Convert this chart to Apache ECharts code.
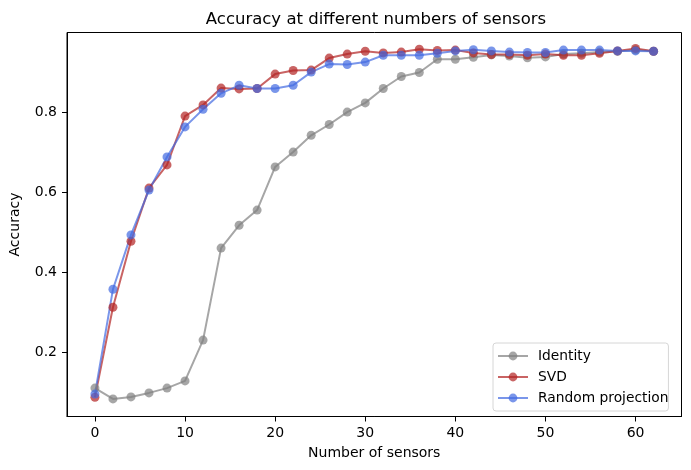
<!DOCTYPE html>
<html>
<head>
<meta charset="utf-8">
<script src="https://cdn.jsdelivr.net/npm/echarts@6/dist/echarts.min.js"></script>
<style>html,body{margin:0;padding:0;background:#fff}#c{width:691px;height:470px}</style>
</head>
<body>
<div id="c"></div>
<script>
var sensors = [0,2,4,6,8,10,12,14,16,18,20,22,24,26,28,30,32,34,36,38,40,42,44,46,48,50,52,54,56,58,60,62];
var identity = [0.110,0.083,0.088,0.098,0.110,0.128,0.230,0.460,0.517,0.555,0.663,0.700,0.742,0.769,0.800,0.823,0.859,0.889,0.899,0.932,0.932,0.937,0.943,0.940,0.936,0.938,0.945,0.947,0.950,0.952,0.955,0.952];
var svd = [0.087,0.312,0.477,0.610,0.668,0.790,0.818,0.860,0.858,0.859,0.895,0.904,0.905,0.935,0.945,0.952,0.948,0.950,0.957,0.954,0.955,0.948,0.944,0.944,0.942,0.945,0.942,0.942,0.947,0.953,0.959,0.952];
var randomProj = [0.095,0.357,0.493,0.605,0.688,0.763,0.807,0.847,0.867,0.859,0.859,0.867,0.900,0.920,0.919,0.925,0.942,0.942,0.942,0.947,0.953,0.956,0.953,0.950,0.949,0.949,0.955,0.955,0.955,0.953,0.953,0.952];
var xTicks = [0,10,20,30,40,50,60];
var yTicks = [0.2,0.4,0.6,0.8];
var seriesNames = ['Identity','SVD','Random projection'];
var seriesColors = ['#808080','#b22222','#4169e1'];

function pairs(vals){ return sensors.map(function(s,i){ return [s, vals[i]]; }); }
var font = 'DejaVu Sans';
var chart = echarts.init(document.getElementById('c'));
var allVals = [identity, svd, randomProj];
chart.setOption({
  animation: false,
  backgroundColor: '#fff',
  textStyle: {fontFamily: font},
  title: {
    text: 'Accuracy at different numbers of sensors',
    left: 371, top: 6, textAlign: 'center',
    textStyle: {fontFamily: font, fontSize: 16.5, fontWeight: 'normal', color: '#000'}
  },
  grid: {left: 61, right: 9.5, top: 32.5, bottom: 53.5, show: true, borderColor: '#000', borderWidth: 1, backgroundColor: 'transparent'},
  legend: {
    orient: 'vertical', left: 493, top: 343,
    padding: [6, 0, 6, 4], itemGap: 7, itemWidth: 30, itemHeight: 11,
    backgroundColor: '#fff', borderColor: '#d6d6d6', borderWidth: 1, borderRadius: 3,
    textStyle: {fontFamily: font, fontSize: 13.8, color: '#000', lineHeight: 14, padding: [0,0,0,5]},
    data: seriesNames
  },
  xAxis: {
    type: 'value', min: -3.1, max: 65.1,
    name: 'Number of sensors', nameLocation: 'middle', nameGap: 30,
    nameTextStyle: {fontFamily: font, fontSize: 14, color: '#000'},
    axisLine: {show: true, onZero: false, lineStyle: {color: '#000', width: 1}},
    axisTick: {show: true, length: 5, customValues: xTicks, lineStyle: {color: '#000'}},
    axisLabel: {customValues: xTicks, margin: 10, fontFamily: font, fontSize: 14, color: '#000'},
    splitLine: {show: false}
  },
  yAxis: {
    type: 'value', min: 0.039, max: 0.999,
    name: 'Accuracy', nameLocation: 'middle', nameGap: 45,
    nameTextStyle: {fontFamily: font, fontSize: 14, color: '#000'},
    axisLine: {show: true, onZero: false, lineStyle: {color: '#000', width: 1}},
    axisTick: {show: true, length: 5, customValues: yTicks, lineStyle: {color: '#000'}},
    axisLabel: {customValues: yTicks, margin: 10, fontFamily: font, fontSize: 14, color: '#000',
      formatter: function(v){ return v.toFixed(1); }},
    splitLine: {show: false}
  },
  series: seriesNames.map(function(n, k){
    return {
      name: n, type: 'line', data: pairs(allVals[k]),
      symbol: 'circle', symbolSize: 9, showSymbol: true,
      color: seriesColors[k],
      lineStyle: {width: 2, color: seriesColors[k], opacity: 0.7},
      itemStyle: {color: seriesColors[k], opacity: 0.7, borderWidth: 0}
    };
  })
});
</script>
</body>
</html>
